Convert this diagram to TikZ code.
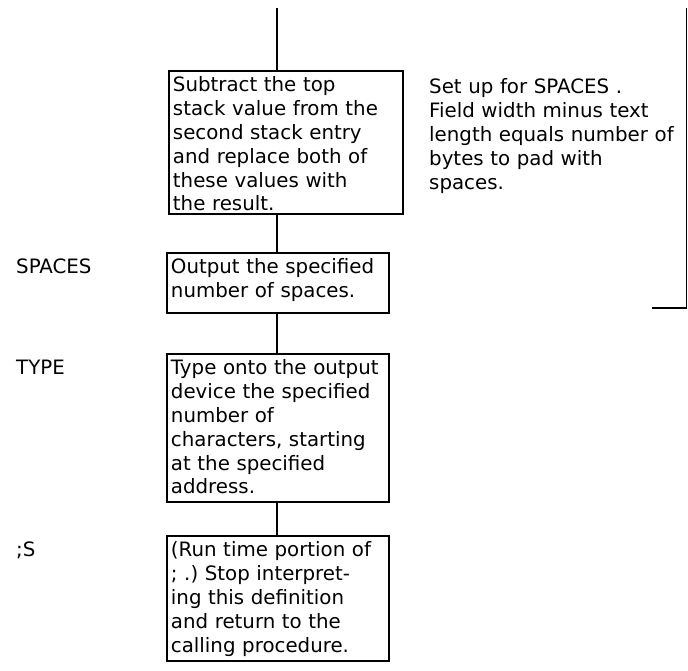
\documentclass[tikz,border=0pt]{standalone}
\usepackage{fontspec}
\setmainfont{DejaVu Sans}
\frenchspacing
\begin{document}
\begin{tikzpicture}[x=1pt,y=-1pt,
  txt/.style={font=\fontsize{19.8}{23.8}\selectfont},
  box/.style={txt, draw, line width=1.9pt, anchor=north west, align=left,
    inner xsep=4pt, inner ysep=0pt, text height=21pt},
  lbl/.style={txt, anchor=base west, inner sep=0pt},
  conn/.style={line width=1.9pt}]
\useasboundingbox (0,0) rectangle (688,671);
\node[box, text width=226pt, text depth=122pt] (b1) at (168,70)
  {Subtract the top\\stack value from the\\second stack entry\\and replace both of\\these values with\\the result.};
\node[box, text width=214pt, text depth=39pt] (b2) at (166,252)
  {Output the specified\\number of spaces.};
\node[box, text width=214pt, text depth=127pt] (b3) at (166,353)
  {Type onto the output\\device the specified\\number of\\characters, starting\\at the specified\\address.};
\node[box, text width=214pt, text depth=104pt] (b4) at (166,535)
  {(Run time portion of\\; .) Stop interpret-\\ing this definition\\and return to the\\calling procedure.};
\node[lbl] (l2) at (b2.base -| 16,0) {SPACES};
\node[lbl] (l3) at (b3.base -| 16,0) {TYPE};
\node[lbl] (l4) at (b4.base -| 16,0) {;S};
\node[txt, anchor=base west, align=left, text width=255pt, inner sep=0pt, text height=20pt] (side)
  at ([yshift=-2pt]b1.base -| 429,0)
  {Set up for SPACES .\\Field width minus text\\length equals number of\\bytes to pad with\\spaces.};
\coordinate (top) at (277,8);
\draw[conn] (top) -- (top |- b1.north);
\draw[conn] (b1.south -| top) -- (b2.north -| top);
\draw[conn] (b2.south -| top) -- (b3.north -| top);
\draw[conn] (b3.south -| top) -- (b4.north -| top);
\coordinate (bt) at (686.5,8);
\coordinate (bb) at (686.5,308);
\coordinate (be) at (652,308);
\draw[line width=1.4pt] (bt) -- (bb);
\draw[line width=1.9pt] (bb) -- (be);
\end{tikzpicture}
\end{document}
